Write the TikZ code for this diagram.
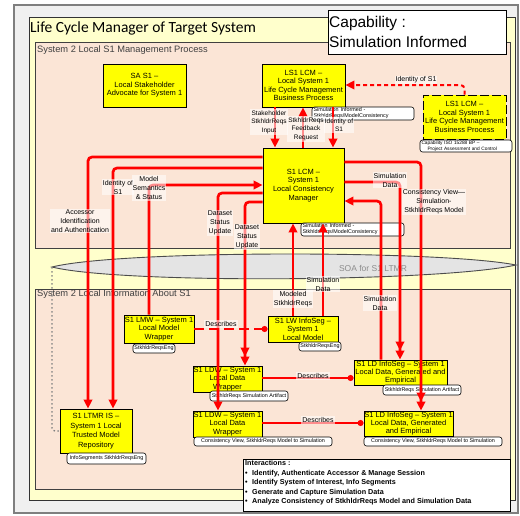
\documentclass[tikz,border=0pt]{standalone}
\usepackage{fontspec}
\setmainfont{Liberation Sans}
\newfontfamily\titlefont{Carlito}
\usetikzlibrary{arrows.meta}
\definecolor{framegray}{HTML}{F0F0F0}
\definecolor{framebar}{HTML}{7F7F7F}
\definecolor{bandyellow}{HTML}{FFFFCC}
\definecolor{peach}{HTML}{FBE5D6}
\definecolor{boxyellow}{HTML}{FFFF00}
\definecolor{flowred}{HTML}{FF0000}
\definecolor{soafill}{HTML}{E4E4E4}
\definecolor{captext}{HTML}{404040}
\begin{document}
\begin{tikzpicture}[x=1pt,y=-1pt,
  ybox/.style={draw=black, line width=0.9pt, fill=boxyellow, align=center, inner sep=0pt,
               font=\fontsize{7.5}{8.5}\selectfont},
  note/.style={draw=black, line width=0.6pt, fill=white, rounded corners=2.5pt, inner sep=0pt,
               align=center, font=\fontsize{5.4}{6}\selectfont},
  lnote/.style={note, align=left},
  lbl/.style={fill=white, fill opacity=0.55, text opacity=1, align=center, inner sep=1pt,
              font=\fontsize{7}{9}\selectfont},
  flow/.style={draw=flowred, line width=2.7pt, rounded corners=4pt},
  tip/.style={-{Triangle[length=9pt,width=8.5pt]}},
  tiptwo/.style={-{Triangle[length=9pt,width=8.5pt]Triangle[length=9pt,width=8.5pt]}},
  describes/.style={draw=flowred, line width=1.5pt, -{Circle[length=6pt]}},
  region/.style={draw=black!75, line width=0.8pt, fill=peach},
  section/.style={anchor=west, inner sep=0pt, text=captext, font=\fontsize{9.3}{11}\selectfont},
]
\useasboundingbox (0,0) rectangle (520,515);
% frames and regions
\fill[white] (0,0) rectangle (520,515);
\draw[framebar, line width=1.2pt, fill=framegray] (14,5) rectangle (518,513);
\draw[black!80, line width=0.8pt, fill=bandyellow] (29,17) rectangle (515,500);
\draw[region] (35,42) rectangle (510,248);
\draw[region] (35,289) rectangle (510,489);
\node[anchor=west, inner sep=0pt, font=\titlefont\fontsize{15.5}{18}\selectfont] (title) at (30,28) {Life Cycle Manager of Target System};
\node[section] (secA) at (37,50) {System 2 Local S1 Management Process};
\node[section] (secB) at (37,294) {System 2 Local Information About S1};

% capability banner
\node[draw=black, line width=1pt, fill=white, minimum width=178pt, minimum height=44pt, inner sep=0pt] (cap) at (417,32) {};
\node[anchor=west, inner sep=0pt, align=left, font=\fontsize{15.5}{19.5}\selectfont] (captxt) at (329,32) {Capability :\\Simulation Informed};

% service bus
\draw[black!70, line width=0.9pt, fill=soafill] (52,267) .. controls (120,250) and (440,250) .. (516,265) .. controls (440,282) and (120,284) .. (52,267) -- cycle;
\coordinate (soaL) at (52,267);
\node[text=black!45, font=\fontsize{8.5}{10}\selectfont] (soa) at (373,268) {SOA for S1 LTMR};

% management process boxes
\node[ybox, minimum width=83pt, minimum height=43pt] (sa) at (144.5,85.5) {SA S1 –\\Local Stakeholder\\Advocate for System 1};
\node[ybox, minimum width=83pt, minimum height=43pt] (ls1) at (303.5,85.5) {LS1 LCM –\\Local System 1\\Life Cycle Management\\Business Process};
\node[ybox, dash pattern=on 9pt off 3pt, minimum width=83pt, minimum height=44pt] (ls1r) at (464.5,117) {LS1 LCM –\\Local System 1\\Life Cycle Management\\Business Process};
\node[ybox, minimum width=81pt, minimum height=75pt, font=\fontsize{7.5}{8.8}\selectfont] (lcm) at (303.5,185.5) {S1 LCM –\\System 1\\Local Consistency\\Manager};

% information boxes
\node[ybox, minimum width=70pt, minimum height=28pt] (lmw) at (159,329) {S1 LMW – System 1\\Local Model\\Wrapper};
\node[ybox, minimum width=70pt, minimum height=26pt] (lwi) at (303,329) {S1 LW InfoSeg –\\System 1\\Local Model};
\node[ybox, minimum width=69pt, minimum height=26pt] (ldwa) at (227.5,379) {S1 LDW – System 1\\Local Data\\Wrapper};
\node[ybox, minimum width=93pt, minimum height=25pt, font=\fontsize{7.5}{8}\selectfont] (ldia) at (400.5,372.5) {S1 LD InfoSeg – System 1\\Local Data, Generated and\\Empirical};
\node[ybox, minimum width=69pt, minimum height=26pt] (ldwb) at (227.5,424) {S1 LDW – System 1\\Local Data\\Wrapper};
\node[ybox, minimum width=89pt, minimum height=25pt, font=\fontsize{7.5}{8}\selectfont] (ldib) at (408.5,423.5) {S1 LD InfoSeg – System 1\\Local Data, Generated\\and Empirical};
\node[ybox, minimum width=72pt, minimum height=44pt, font=\fontsize{7.5}{9.5}\selectfont] (ltmr) at (96,431) {S1 LTMR IS –\\System 1 Local\\Trusted Model\\Repository};

% callouts
\node[lnote, minimum width=102pt, minimum height=13pt, text width=99pt] (nls1) at (363,113.5) {Simulation Informed -\\StkhldrReqs/ModelConsistency};
\node[lnote, minimum width=92pt, minimum height=12pt, text width=89pt, font=\fontsize{4.8}{5.6}\selectfont] (nls1r) at (466,146) {Capability ISO 15288 BP –\\\hspace*{6pt}Project Assessment and Control};
\node[lnote, minimum width=103pt, minimum height=13pt, text width=100pt] (nlcm) at (352.5,229.5) {Simulation Informed -\\StkhldrReqs/ModelConsistency};
\node[note, minimum width=42pt, minimum height=9pt] (nlmw) at (154,348.5) {StkhldrReqsEng};
\node[note, minimum width=42pt, minimum height=9pt] (nlwi) at (320,346.5) {StkhldrReqsEng};
\node[note, minimum width=78pt, minimum height=10pt] (nldwa) at (249,396) {StkhldrReqs Simulation Artifact};
\node[note, minimum width=78pt, minimum height=10pt] (nldia) at (422,390) {StkhldrReqs Simulation Artifact};
\node[note, minimum width=138pt, minimum height=9pt] (nldwb) at (263,441.5) {Consistency View, StkhldrReqs Model to Simulation};
\node[note, minimum width=138pt, minimum height=9pt] (nldib) at (433,441.5) {Consistency View, StkhldrReqs Model to Simulation};
\node[note, minimum width=79pt, minimum height=11pt] (nltmr) at (106.5,458.5) {InfoSegments StkhldrReqsEng};

% interactions legend
\node[draw=black, line width=1pt, fill=white, minimum width=267pt, minimum height=52pt, inner sep=0pt] (inter) at (376.5,485) {};
\node[anchor=north west, inner sep=0pt, align=left, font=\bfseries\fontsize{7.2}{9.4}\selectfont] (intertxt) at (245,460.5)
  {Interactions :\\
   \makebox[7pt][l]{\textbullet}Identify, Authenticate Accessor \& Manage Session\\
   \makebox[7pt][l]{\textbullet}Identify System of Interest, Info Segments\\
   \makebox[7pt][l]{\textbullet}Generate and Capture Simulation Data\\
   \makebox[7pt][l]{\textbullet}Analyze Consistency of StkhldrReqs Model and Simulation Data};

% dotted link from the bus to the repository
\draw[gray, line width=1.4pt, dash pattern=on 1.5pt off 2.5pt, rounded corners=3pt] (soaL) |- (ltmr.west);

% flows between business process and consistency manager
\draw[flow, tip] (ls1.south -| 275,0) -- (lcm.north -| 275,0);
\draw[flow, tip] (lcm.north -| 303,0) -- (ls1.south -| 303,0);
\draw[flow, tip] (ls1.south -| 333,0) -- (lcm.north -| 333,0);
\draw[draw=flowred, line width=2pt, dash pattern=on 4pt off 3pt, rounded corners=4pt, -{Triangle[length=9pt,width=8.5pt]}]
  (ls1r.north) |- (ls1.east |- 0,85);

% flows on the left of the consistency manager
\draw[flow, tip] (lcm.west |- 0,157) -| (ltmr.north -| 88,0);
\draw[flow, tip] (lcm.west |- 0,168) -| (ltmr.north -| 113,0);
\draw[flow, tip] (lmw.north -| 149,0) |- (lcm.west |- 0,185);
\draw[flow, tip] (lcm.west |- 0,193) -| (ldwb.north -| 218,0);
\draw[flow, tiptwo] (lcm.west |- 0,202) -| (ldwa.north -| 245,0);

% flows on the right of the consistency manager
\draw[flow, tiptwo] (lcm.east |- 0,162) -| (ldib.north -| 421,0);
\draw[flow, tiptwo] (lcm.east |- 0,182) -| (ldia.north -| 400,0);
\draw[flow, tip] (ldia.north -| 381,0) |- (lcm.east |- 0,201);

% flows from below
\draw[flow, tip] (lwi.north -| 293,0) -- (lcm.south -| 293,0);
\draw[flow, tip] (lwi.north -| 323,0) -- (lcm.south -| 323,0);

% describes relations
\draw[describes, dash pattern=on 10pt off 5pt] (lmw.east) -- (lwi.west);
\draw[describes] (ldwa.east |- 0,378) -- (ldia.west |- 0,378);
\draw[describes] (ldwb.east |- 0,423) -- (ldib.west |- 0,423);

% flow labels
\node[lbl, font=\fontsize{6.5}{8.6}\selectfont] (tStake) at (269,122) {Stakeholder\\StkhldrReqs\\Input};
\node[lbl, font=\fontsize{6.5}{8.6}\selectfont] (tFeed) at (306,129) {StkhldrReqs\\Feedback\\Request};
\node[lbl, font=\fontsize{6.5}{8.6}\selectfont] (tIdent) at (339,125) {Identity of\\S1};
\node[lbl] (tIdR) at (416,80) {Identity of S1};
\node[lbl] (tAcc) at (80,221) {Accessor\\Identification\\and Authentication};
\node[lbl] (tIdL) at (118,187) {Identity of\\S1};
\node[lbl] (tModel) at (149,188) {Model\\Semantics\\\& Status};
\node[lbl] (tDs1) at (220,223) {Dataset\\Status\\Update};
\node[lbl] (tDs2) at (247,237) {Dataset\\Status\\Update};
\node[lbl] (tSim1) at (390,180) {Simulation\\Data};
\node[lbl] (tCons) at (434,202) {Consistency View—\\Simulation-\\StkhldrReqs Model};
\node[lbl] (tSim2) at (323,284) {Simulation\\Data};
\node[lbl] (tModeled) at (293,299) {Modeled\\StkhldrReqs};
\node[lbl] (tSim3) at (380,303) {Simulation\\Data};
\node[lbl] (tDesc1) at (221,324) {Describes};
\node[lbl] (tDesc2) at (313,376) {Describes};
\node[lbl] (tDesc3) at (318,420) {Describes};
\end{tikzpicture}
\end{document}
